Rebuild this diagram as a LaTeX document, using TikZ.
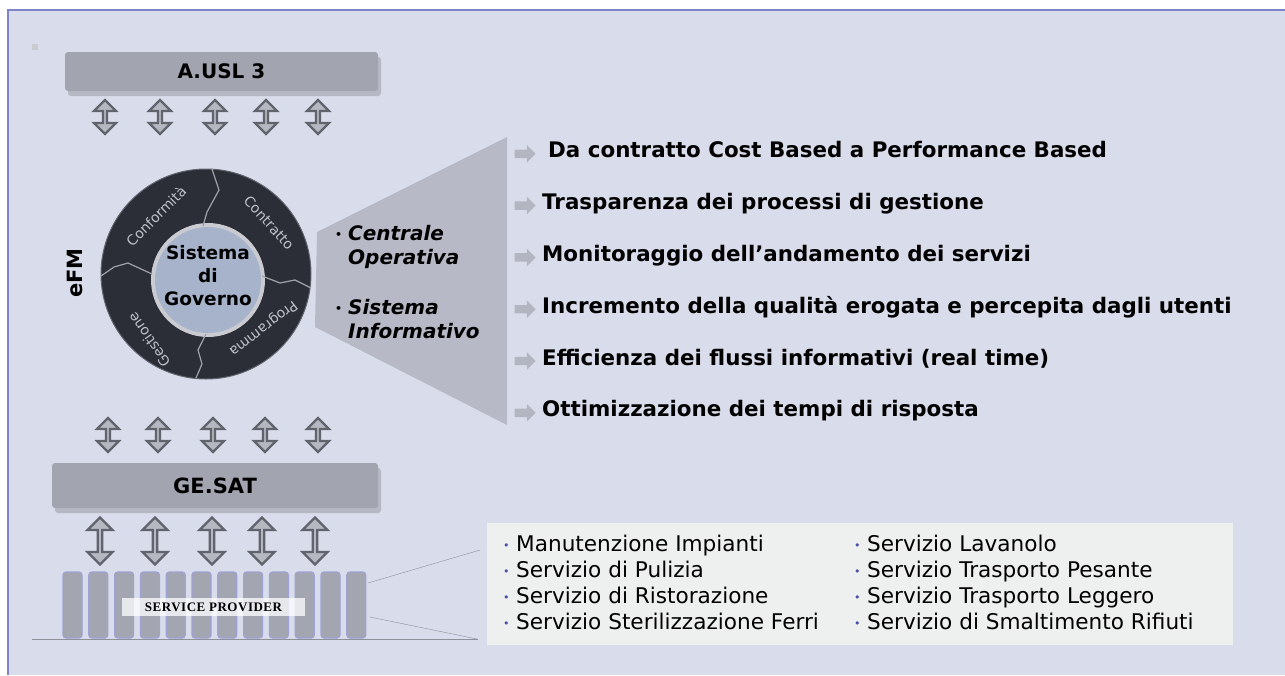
\documentclass[tikz,border=0pt]{standalone}
\usepackage{fontspec}
\setmainfont{DejaVu Sans}
\newfontfamily\provfont[LetterSpace=4]{Liberation Serif}
\usepackage{xcolor}
\usetikzlibrary{positioning,shapes.arrows,shadows}

\definecolor{pagebg}{HTML}{D9DCEA}
\definecolor{framebl}{HTML}{7E84C6}
\definecolor{bargray}{HTML}{A2A5AF}
\definecolor{barshade}{HTML}{B6B9C4}
\definecolor{ringdark}{HTML}{2B2E37}
\definecolor{ringtext}{HTML}{BFC1C9}
\definecolor{rimgray}{HTML}{C9CBD1}
\definecolor{hubblue}{HTML}{A6B3CB}
\definecolor{fangray}{HTML}{B7BAC6}
\definecolor{pointgray}{HTML}{B3B5C1}
\definecolor{swapfill}{HTML}{B5B7C1}
\definecolor{swapedge}{HTML}{62646D}
\definecolor{dotblue}{HTML}{4B50A8}
\definecolor{boxwhite}{HTML}{EEEFEF}
\definecolor{pillarfill}{HTML}{A3A6B0}
\definecolor{pillaredge}{HTML}{9FA2D4}
\definecolor{linkgray}{HTML}{8E909A}

% small bullet in front of list items
\newcommand{\dotitem}[1]{\makebox[13pt][l]{\textcolor{#1}{\fontsize{11}{11}\selectfont\raisebox{2pt}{•}}}}

\begin{document}
\begin{tikzpicture}[
    x=1pt, y=-1pt,
    bar/.style={fill=bargray, rounded corners=3pt, inner sep=0pt,
        drop shadow={shadow xshift=3pt, shadow yshift=-5pt, fill=barshade, opacity=1},
        font=\bfseries\fontsize{20}{24}\selectfont},
    updown/.style={double arrow, shape border rotate=90, draw=swapedge, fill=swapfill,
        line width=2.2pt, minimum width=22pt, double arrow head extend=5pt,
        minimum height=34pt, inner sep=0pt},
    pointer/.style={single arrow, fill=pointgray, single arrow head extend=4.5pt,
        minimum height=21pt, inner sep=0pt},
    gain/.style={anchor=base west, inner sep=0pt, font=\bfseries\fontsize{21.4}{25}\selectfont},
    ringlabel/.style={text=ringtext, font=\fontsize{14}{16}\selectfont, inner sep=0pt},
    seam/.style={draw=rimgray!80!black, line width=1.2pt},
    pillar/.style={fill=pillarfill, draw=pillaredge, line width=1.2pt, rounded corners=3pt,
        minimum width=19pt, minimum height=66pt, inner sep=0pt},
    svcitem/.style={anchor=base west, inner sep=0pt, font=\fontsize{21.6}{25}\selectfont},
    duty/.style={anchor=north west, inner sep=0pt, align=left,
        font=\bfseries\itshape\fontsize{20}{24}\selectfont}
]
\useasboundingbox (0,0) rectangle (1285,675);

% page frame
\fill[pagebg] (8,10) rectangle (1285,675);
\draw[framebl, line width=1.5pt] (8,675) -- (8,10) -- (1285,10);
\fill[rimgray] (32,44) rectangle (38,50);

% top authority
\node[bar, minimum width=313pt, minimum height=39pt] (ausl) at (221.5,71.5) {A.USL 3};
\foreach \x [count=\k] in {105,160,215,266,318}
    \node[updown] (up\k) at (\x,117) {};

% fan towards the goals
\fill[fangray] (317,232) -- (507,137) -- (507,425) -- (315,327) -- cycle;

% eFM ring
\fill[ringdark] (206,274) circle (105);
\draw[swapedge, line width=1pt] (206,274) circle (105);
\fill[rimgray] (208,280) circle (57);
\fill[hubblue] (208,280) circle (53);
\draw[seam] (212,169) -- (219,190) -- (207,212) -- (203,226);
\draw[seam] (262,276) -- (280,283) -- (295,280) -- (311,288);
\draw[seam] (206,334) -- (198,350) -- (202,364) -- (196,378);
\draw[seam] (101,276) -- (114,267) -- (128,263) -- (152,274);
\node[ringlabel, rotate=45] (conf) at (156,216) {Conformità};
\node[ringlabel, rotate=-48] (contr) at (269,223) {Contratto};
\node[ringlabel, rotate=218] (progr) at (263,328) {Programma};
\node[ringlabel, rotate=125] (gest) at (149,340) {Gestione};
\node[align=center, inner sep=0pt, font=\bfseries\fontsize{18.5}{23}\selectfont]
    (hub) at (208,276) {Sistema\\di\\Governo};
\node[rotate=90, font=\bfseries\fontsize{21}{25}\selectfont] (efm) at (75,273) {eFM};

\node[duty] (centrale) at (335,225) {\dotitem{black}Centrale\\\hspace*{13pt}Operativa};
\node[duty] (sisinf) at (335,299) {\dotitem{black}Sistema\\\hspace*{13pt}Informativo};

% goals
\foreach \xo/\txt [count=\k] in {
    548/Da contratto Cost Based a Performance Based,
    542/Trasparenza dei processi di gestione,
    542/Monitoraggio dell’andamento dei servizi,
    542/Incremento della qualità erogata e percepita dagli utenti,
    542/Efficienza dei flussi informativi (real time),
    542/Ottimizzazione dei tempi di risposta}
{
    \node[pointer] (arr\k) at (523,{102+\k*51.8}) {\rule{0pt}{8pt}};
    \node[gain] (goal\k) at (\xo,{106+\k*51.8}) {\txt};
}

% lower level
\foreach \x [count=\k] in {108,158,213,265,318}
    \node[updown] (mid\k) at (\x,435) {};
\node[bar, minimum width=326pt, minimum height=45pt, font=\bfseries\fontsize{21}{25}\selectfont]
    (gesat) at (215,485.5) {GE.SAT};
\foreach \x [count=\k] in {100,155,212,262,315}
    \node[updown, minimum height=47pt, minimum width=25pt] (low\k) at (\x,541) {};

% service providers
\foreach \k in {1,...,12}
    \node[pillar] (p\k) at ({72.5+(\k-1)*25.8},605) {};
\node[fill=white, fill opacity=0.75, text opacity=1, minimum width=183pt, minimum height=18pt,
    inner sep=0pt, font=\provfont\bfseries\fontsize{13}{15}\selectfont] (prov) at (213.5,607) {SERVICE PROVIDER};
\coordinate (ground w) at (32,639);
\coordinate (ground e) at (478,639);
\draw[linkgray, line width=1pt] (ground w) -- (ground e);

\node[fill=boxwhite, minimum width=746pt, minimum height=122pt, inner sep=0pt] (svc) at (860,584) {};
\coordinate (link top) at (368,583);
\coordinate (link bot) at (370,617);
\coordinate (svc top) at (480,550);
\coordinate (svc bot) at (477,639);
\draw[linkgray] (link top) -- (svc top);
\draw[linkgray] (link bot) -- (svc bot);

\foreach \txt [count=\k] in {Manutenzione Impianti, Servizio di Pulizia,
    Servizio di Ristorazione, Servizio Sterilizzazione Ferri}
    \node[svcitem] (sl\k) at (503,{526+\k*25.8}) {\dotitem{dotblue}\txt};
\foreach \txt [count=\k] in {Servizio Lavanolo, Servizio Trasporto Pesante,
    Servizio Trasporto Leggero, Servizio di Smaltimento Rifiuti}
    \node[svcitem] (sr\k) at (854,{526+\k*25.8}) {\dotitem{dotblue}\txt};
\end{tikzpicture}
\end{document}
